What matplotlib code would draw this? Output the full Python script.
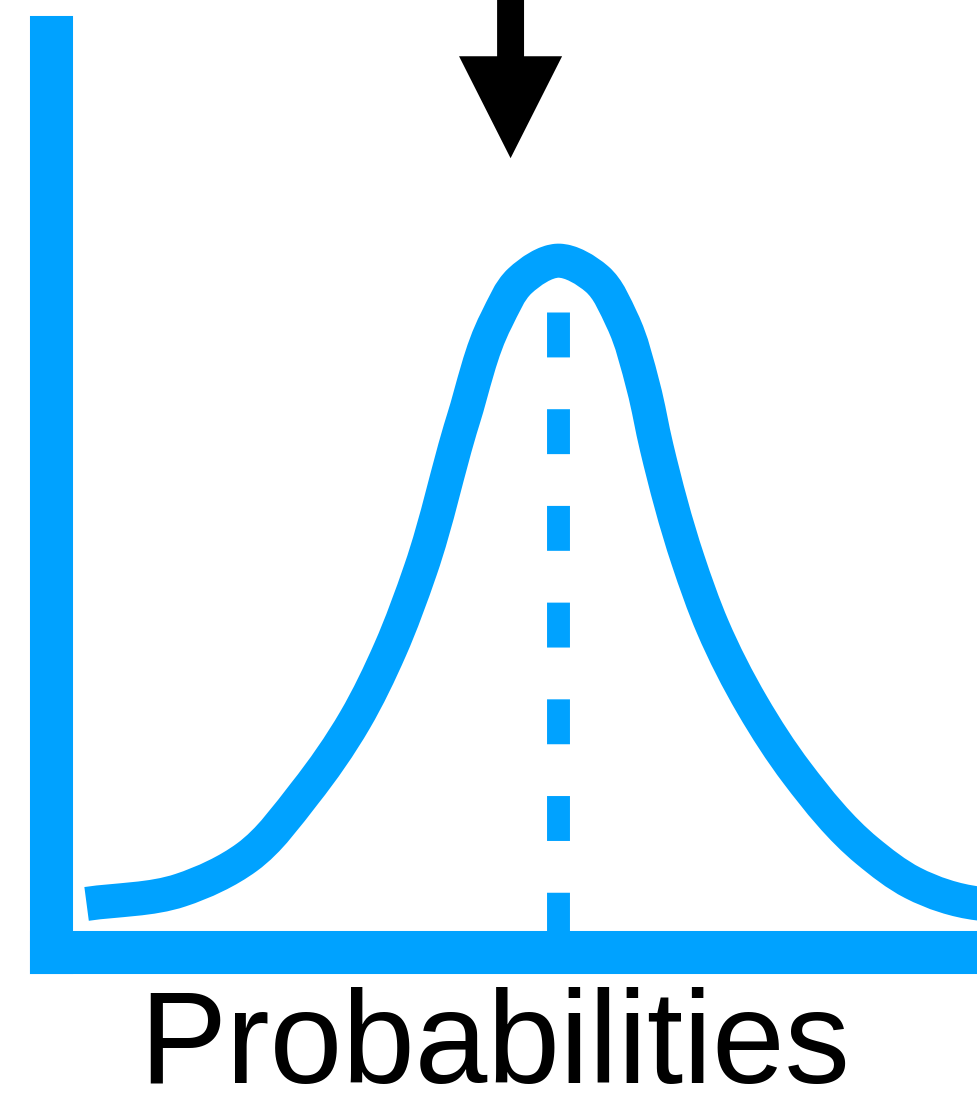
import matplotlib.pyplot as plt
import numpy as np
from matplotlib.patches import FancyArrowPatch, ArrowStyle, PathPatch
from matplotlib.path import Path

# curve (x: 0-100 along axis, y: 0-100 height)
curve_x = [3.7, 13.6, 20.6, 26.7, 32.0, 35.7, 38.9, 43.4, 46.9, 49.4, 53.4,
           57.5, 60.15, 62.4, 63.8, 67.1, 69.7, 73.9, 78.6, 86.0, 90.8, 97.7,
           100.0]
curve_y = [5.2, 6.7, 10.3, 17.3, 25.3, 33.0, 41.7, 58.1, 69.0, 73.3, 75.5,
           73.5, 69.0, 61.7, 55.1, 42.8, 35.5, 26.9, 19.5, 11.0, 7.5, 5.25,
           5.1]
mode_x = 53.45
mode_top = 69.9
arrow_x = 48.4
arrow_tip = 86.7
label = 'Probabilities'

blue = '#00A2FF'

fig = plt.figure(figsize=(9.78, 10.93), dpi=100)
ax = fig.add_axes([51.5 / 978, 141.5 / 1093, 948.5 / 978, 915 / 1093])
ax.set_xlim(0, 100)
ax.set_ylim(0, 100)

# the blue L axes
for side in ['top', 'right']:
    ax.spines[side].set_visible(False)
for side in ['left', 'bottom']:
    ax.spines[side].set_linewidth(31)
    ax.spines[side].set_color(blue)
    ax.spines[side].set_capstyle('projecting')
ax.set_xticks([])
ax.set_yticks([])

# bell curve, drawn as a smooth bezier path through the read points
pts = np.column_stack([curve_x, curve_y])
n = len(pts)
seg = np.diff(pts, axis=0)
h = np.hypot(seg[:, 0], seg[:, 1])
deriv = np.zeros_like(pts)
deriv[0], deriv[-1] = seg[0] / h[0], seg[-1] / h[-1]
for i in range(1, n - 1):
    deriv[i] = (h[i] * seg[i - 1] / h[i - 1] + h[i - 1] * seg[i] / h[i]) / (h[i - 1] + h[i])
verts = [pts[0]]
codes = [Path.MOVETO]
for i in range(n - 1):
    verts += [pts[i] + deriv[i] * h[i] / 3, pts[i + 1] - deriv[i + 1] * h[i] / 3, pts[i + 1]]
    codes += [Path.CURVE4] * 3
ax.add_patch(PathPatch(Path(verts, codes), fill=False, edgecolor=blue,
                       lw=24.5, capstyle='butt', joinstyle='round', clip_on=False))

# dashed line at the mode
ax.plot([mode_x, mode_x], [mode_top, 0], color=blue, lw=16.5,
        dashes=(1.96, 2.26), dash_capstyle='butt')

# arrow pointing down at the peak
arr = FancyArrowPatch((arrow_x, 106), (arrow_x, arrow_tip),
                      arrowstyle=ArrowStyle.Simple(head_length=73.4, head_width=74.2, tail_width=19.4),
                      mutation_scale=1, shrinkA=0, shrinkB=0, color='black',
                      lw=0, clip_on=False)
ax.add_patch(arr)

fig.text(495 / 978, 10 / 1093, label, ha='center', va='baseline',
         fontsize=94, family='Liberation Sans')

plt.savefig('out.png', dpi=100)
